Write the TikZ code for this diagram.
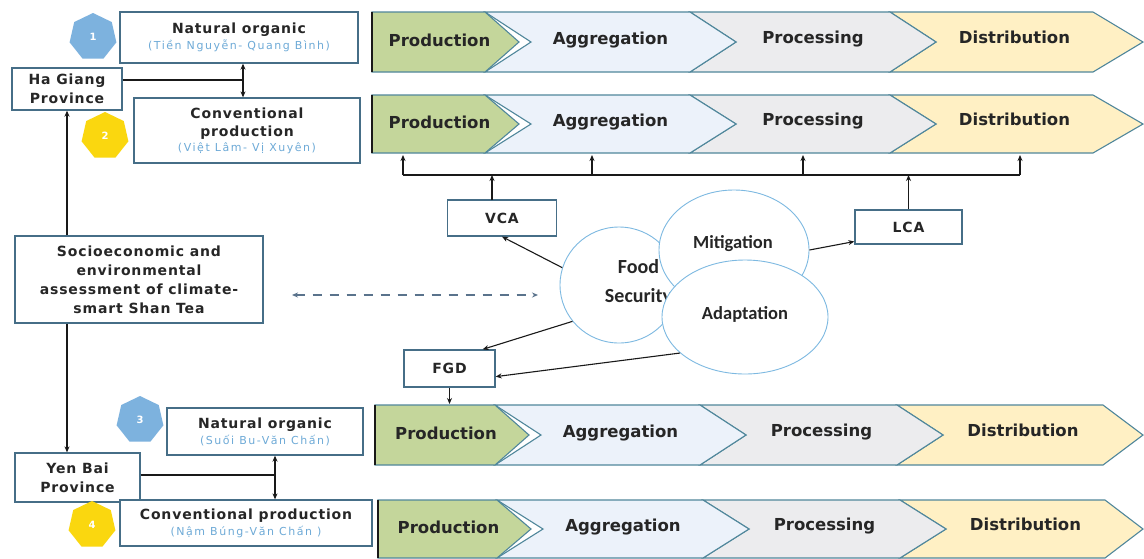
\documentclass[tikz,border=0pt]{standalone}
\usepackage{fontspec}
\setmainfont{DejaVu Sans}
\newfontfamily\boxfont[LetterSpace=6]{DejaVu Sans}
\newfontfamily\subfont[LetterSpace=14]{DejaVu Sans}
\newfontfamily\circfont{Carlito}
\usetikzlibrary{shapes.geometric,arrows.meta,calc}

\definecolor{prodg}{RGB}{196,214,155}
\definecolor{aggb}{RGB}{236,242,250}
\definecolor{procg}{RGB}{236,236,238}
\definecolor{distY}{RGB}{255,240,196}
\definecolor{chevline}{RGB}{80,135,155}
\definecolor{boxline}{RGB}{70,110,135}
\definecolor{subblue}{RGB}{110,170,215}
\definecolor{badgeblue}{RGB}{125,178,222}
\definecolor{badgeyellow}{RGB}{250,215,15}
\definecolor{circline}{RGB}{125,185,225}
\definecolor{conn}{RGB}{25,25,25}
\definecolor{dashc}{RGB}{90,115,140}

\tikzset{
  chevtext/.style={font=\bfseries\fontsize{16.5}{19}\selectfont, text=black!85, inner sep=0pt},
  chevpath/.style={draw=chevline, line width=1.1pt},
  infobox/.style={draw=boxline, line width=1.3pt, fill=white, align=center, inner sep=1pt,
    font=\boxfont\bfseries\fontsize{14}{18}\selectfont, text=black!85},
  badge/.style={regular polygon, regular polygon sides=7, minimum size=48pt, inner sep=0pt,
    text=white, font=\bfseries\fontsize{10}{12}\selectfont},
  bubble/.style={ellipse, draw=circline, line width=0.9pt, fill=white, inner sep=0pt},
  bubtext/.style={font=\circfont\bfseries\fontsize{18.5}{29}\selectfont, text=black!85, align=center, inner sep=0pt},
  link/.style={draw=conn, line width=1.1pt},
  arr/.style={link, -{Stealth[length=6pt,width=5pt]}},
  darr/.style={link, {Stealth[length=6pt,width=5pt]}-{Stealth[length=6pt,width=5pt]}},
}
\newcommand{\subl}[1]{{\subfont\mdseries\fontsize{11}{17}\selectfont\color{subblue}#1}}

\begin{document}
\begin{tikzpicture}[x=1pt,y=-1pt]
\useasboundingbox (0,0) rectangle (1144,558);
\fill[white] (0,0) rectangle (1144,558);

% ---------- value chain rows ----------
\foreach \t/\b/\xa/\xb/\xc/\xd/\xe [count=\r] in
  {12/72/372/485/690/890/1093, 95/153/372/485/690/890/1093,
   405/465/375/495/700/897/1103, 500/558/378/497/703/900/1105}{
  \pgfmathsetmacro{\m}{(\t+\b)/2}
  \pgfmathsetmacro{\dd}{46}
  \pgfmathsetmacro{\dp}{34}
  \path[chevpath, fill=distY] (\xd,\t) -- (\xe,\t) -- (1143,\m) -- (\xe,\b) -- (\xd,\b) -- (\xd+\dd,\m) -- cycle;
  \path[chevpath, fill=procg] (\xc,\t) -- (\xd,\t) -- (\xd+\dd,\m) -- (\xd,\b) -- (\xc,\b) -- (\xc+\dd,\m) -- cycle;
  \path[chevpath, fill=aggb] (\xb,\t) -- (\xc,\t) -- (\xc+\dd,\m) -- (\xc,\b) -- (\xb,\b) -- (\xb+\dd,\m) -- cycle;
  \path[chevpath, fill=prodg] (\xa,\t) -- (\xb,\t) -- (\xb+\dp,\m) -- (\xb,\b) -- (\xa,\b) -- cycle;
  \draw[conn, line width=1.1pt] (\xa,\t) -- (\xa,\b);
  \node[chevtext] (p\r) at ({(\xa+\xb+22)/2},\m-2) {Production};
  \node[chevtext] (a\r) at ({(\xb+\dd+\xc)/2},\m-4) {Aggregation};
  \node[chevtext] (c\r) at ({(\xc+\dd+\xd)/2},\m-5) {Processing};
  \node[chevtext] (d\r) at ({(\xd+\dd+\xe)/2},\m-5) {Distribution};
}

% ---------- left column boxes ----------
\node[badge, fill=badgeblue] (b1) at (93,37) {1};
\node[infobox, minimum width=238pt, minimum height=51pt] (n1) at (239,37.5)
  {Natural organic\\[-2pt]\subl{(Tiền Nguyễn- Quang Bình)}};
\node[infobox, minimum width=110pt, minimum height=42pt, font=\boxfont\bfseries\fontsize{14}{19}\selectfont] (hg) at (67,89) {Ha Giang\\Province};
\node[badge, fill=badgeyellow] (b2) at (105,136) {2};
\node[infobox, minimum width=226pt, minimum height=65pt] (cv2) at (247,130.5)
  {Conventional\\production\\[-3pt]\subl{(Việt Lâm- Vị Xuyên)}};

\node[infobox, minimum width=248pt, minimum height=87pt, font=\boxfont\bfseries\fontsize{14}{19}\selectfont] (se) at (139,279.5)
  {Socioeconomic and\\environmental\\assessment of climate-\\smart Shan Tea};

\node[badge, fill=badgeblue] (b3) at (140,420) {3};
\node[infobox, minimum width=196pt, minimum height=47pt] (n3) at (265,431.5)
  {Natural organic\\[-2pt]\subl{(Suối Bu-Văn Chấn)}};
\node[infobox, minimum width=125pt, minimum height=49pt, font=\boxfont\bfseries\fontsize{14}{19}\selectfont] (yb) at (77.5,477.5) {Yen Bai\\Province};
\node[badge, fill=badgeyellow] (b4) at (92,525) {4};
\node[infobox, minimum width=252pt, minimum height=46pt] (cv4) at (246,523)
  {Conventional production\\[-2pt]\subl{(Nậm Búng-Văn Chấn )}};

% ---------- assessment tools ----------
\node[infobox, minimum width=109pt, minimum height=36pt] (vca) at (502,218) {VCA};
\node[infobox, minimum width=107pt, minimum height=34pt] (lca) at (908.5,227) {LCA};
\node[infobox, minimum width=91pt, minimum height=37pt] (fgd) at (449.5,368.5) {FGD};

% ---------- bubbles ----------
\node[bubble, minimum width=118pt, minimum height=116pt] (fs) at (619,285) {};
\node[bubtext, font=\circfont\bfseries\fontsize{20}{29}\selectfont] (fst) at (638.5,283) {Food\\Security};
\node[bubble, minimum width=150pt, minimum height=120pt] (mi) at (734,250) {};
\node[bubtext] (mit) at (733,244) {Mitigation};
\node[bubble, minimum width=166pt, minimum height=114pt] (ad) at (745,317) {};
\node[bubtext] (adt) at (745,314) {Adaptation};

% ---------- coordinates ----------
\coordinate (r2b) at (0,155);
\coordinate (r3t) at (0,404);
\coordinate (busL) at (403,175);
\coordinate (busR) at (1020,175);
\coordinate (bus2) at (592,175);
\coordinate (bus3) at (803,175);
\coordinate (vcaup) at (492,200);
\coordinate (j1) at (243,80);
\coordinate (j3) at (275,475);
\coordinate (dashL) at (292,295);
\coordinate (dashR) at (538,295);

% ---------- connectors ----------
\draw[link] (hg.east |- j1) -- (j1);
\draw[darr] (j1 |- n1.south) -- (j1 |- cv2.north);
\draw[arr] (se.north -| hg.south) -- (hg.south);
\draw[arr] (se.south -| hg.south) -- (yb.north -| hg.south);
\draw[link] (yb.east |- j3) -- (j3);
\draw[darr] (j3 |- n3.south) -- (j3 |- cv4.north);

\draw[link] (busL) -- (busR);
\draw[arr] (busL) -- (busL |- r2b);
\draw[arr] (bus2) -- (bus2 |- r2b);
\draw[arr] (bus3) -- (bus3 |- r2b);
\draw[arr] (busR) -- (busR |- r2b);
\draw[arr] (vcaup) -- (vcaup |- busL);
\draw[arr] (lca.north) -- (lca.north |- busL);

\draw[arr] (fs.163) -- (vca.south);
\draw[arr] (mi.east) -- (lca.195);
\draw[arr] (fs.218) -- (fgd.30);
\draw[arr] (ad.209) -- (fgd.-10);
\draw[arr] (fgd.south) -- (fgd.south |- r3t);

\draw[draw=dashc, line width=1.3pt, dash pattern=on 9pt off 8pt,
  {Stealth[length=6pt,width=5pt]}-{Stealth[length=6pt,width=5pt]}] (dashL) -- (dashR);
\end{tikzpicture}
\end{document}
